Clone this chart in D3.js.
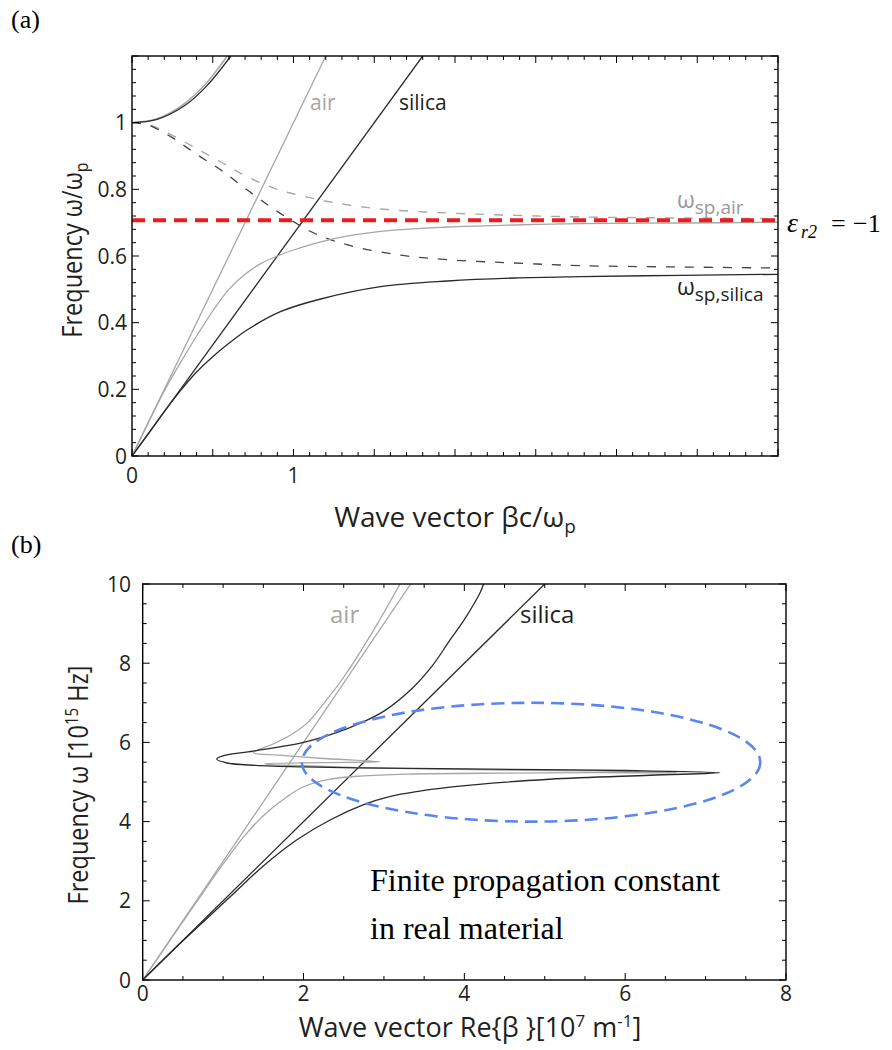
<!DOCTYPE html>
<html>
<head>
<meta charset="utf-8">
<script src="https://cdn.jsdelivr.net/npm/d3@7"></script>
<style>
  body { margin: 0; background: #fff; }
  svg { display: block; }
</style>
</head>
<body>
<svg width="892" height="1050"></svg>
<script>
// ---- (a) normalised dispersion ----
var aAirLight    = [[0, 0], [1.2, 1.2]];
var aSilicaLight = [[0, 0], [1.8, 1.2]];
var aUpperAir    = [[0, 1], [0.15, 1.011], [0.31, 1.052], [0.45, 1.113], [0.59, 1.2]];
var aUpperSilica = [[0, 1], [0.15, 1.009], [0.32, 1.049], [0.46, 1.109], [0.612, 1.2]];
var aSppAir      = [[0, 0], [0.1, 0.099], [0.2, 0.195], [0.3, 0.28], [0.4, 0.36], [0.5, 0.435], [0.6, 0.5], [0.7, 0.545], [0.8, 0.578], [0.9, 0.6], [1.0, 0.618], [1.23, 0.65], [1.54, 0.674], [1.955, 0.687], [2.37, 0.693], [2.78, 0.697], [3.4, 0.699], [4, 0.701]];
var aSppSilica   = [[0, 0], [0.1, 0.066], [0.2, 0.133], [0.3, 0.196], [0.4, 0.252], [0.5, 0.298], [0.6, 0.338], [0.712, 0.378], [0.919, 0.433], [1.168, 0.471], [1.54, 0.508], [1.955, 0.525], [2.37, 0.534], [2.78, 0.538], [3.4, 0.542], [4, 0.545]];
var aDashAir     = [[0, 1], [0.1, 0.995], [0.25, 0.962], [0.4, 0.922], [0.55, 0.882], [0.65, 0.854], [0.775, 0.824], [0.919, 0.797], [1.02, 0.784], [1.23, 0.762], [1.54, 0.741], [1.955, 0.729], [2.37, 0.722], [2.78, 0.717], [3.4, 0.714], [4, 0.712]];
var aDashSilica  = [[0, 1], [0.1, 0.993], [0.25, 0.955], [0.4, 0.905], [0.55, 0.858], [0.7, 0.803], [0.85, 0.75], [1.0, 0.703], [1.126, 0.669], [1.33, 0.634], [1.64, 0.604], [1.955, 0.589], [2.37, 0.579], [2.78, 0.571], [3.4, 0.567], [4, 0.564]];
var aEpsLevel    = 0.707;
var aYTicks      = [0, 0.2, 0.4, 0.6, 0.8, 1];
var aXTicks      = [0, 1];

// ---- (b) lossy Drude, Re(beta) in 1e7 1/m, omega in 1e15 Hz ----
var bAirLight    = [[0, 0], [3.333, 10]];
var bSilicaLight = [[0, 0], [5, 10]];
var bSilicaSpp   = [[0, 0], [0.5, 0.99], [1.088, 2.1], [1.5, 2.88], [1.914, 3.535], [2.33, 4.04], [2.74, 4.42], [3.07, 4.63], [3.82, 4.87], [5.06, 5.07], [6.31, 5.17], [7.18, 5.235],
                    [6.0, 5.29], [5.0, 5.31], [4.0, 5.33], [3.0, 5.35], [2.0, 5.38], [1.4, 5.42], [1.05, 5.48], [0.92, 5.58], [1.0, 5.66], [1.375, 5.78], [2.0, 6.0], [2.4, 6.24], [2.7, 6.48], [3.0, 6.79], [3.36, 7.38], [3.6, 7.93], [3.82, 8.58], [4.0, 9.1], [4.12, 9.5], [4.2, 9.8], [4.24, 10]];
var bAirSpp      = [[0, 0], [0.67, 1.97], [1.0, 2.93], [1.25, 3.6], [1.5, 4.15], [1.79, 4.62], [2.0, 4.88], [2.3, 5.06], [2.7, 5.15], [3.3, 5.2], [4.5, 5.225], [5.6, 5.235], [6.64, 5.235],
                    [5.6, 5.28], [4.5, 5.3], [3.5, 5.33], [2.6, 5.37], [2.0, 5.41], [1.6, 5.44], [1.52, 5.46], [2.2, 5.49], [2.95, 5.51],
                    [2.2, 5.6], [1.7, 5.68], [1.375, 5.74], [1.62, 5.96], [1.85, 6.2], [2.05, 6.5], [2.25, 6.98], [2.49, 7.62], [2.85, 8.76], [3.2, 10]];
var bEllipse     = { cx: 4.83, cy: 5.5, rx: 2.85, ry: 1.5 };
var bYTicks      = [0, 2, 4, 6, 8, 10];
var bXTicks      = [0, 2, 4, 6, 8];

var GRAY = "#a6a6a6", DARK = "#2a2a2a", TXT = "#231f20";
var sans = "'Open Sans', 'Noto Sans', sans-serif";
var serif = "'Liberation Serif', 'Times New Roman', serif";

var svg = d3.select("svg");

// frame with inward ticks on all four sides
function frame(g, x, y, xMinor, xMajor, yMinor, yMajor){
    var x0 = x.range()[0], x1 = x.range()[1], y0 = y.range()[0], y1 = y.range()[1];
    g.append("rect")
        .attr("x", x0).attr("y", y1)
        .attr("width", x1 - x0).attr("height", y0 - y1)
        .attr("fill", "none").attr("stroke", "#000").attr("stroke-width", 1.4);
    var xt = d3.range(x.domain()[0], x.domain()[1] + 1e-9, xMinor);
    var yt = d3.range(y.domain()[0], y.domain()[1] + 1e-9, yMinor);
    function isMajor(v, m){ return Math.abs(v / m - Math.round(v / m)) < 1e-6; }
    xt.forEach(function(v){
        var L = isMajor(v, xMajor) ? 7 : 4;
        g.append("line").attr("x1", x(v)).attr("x2", x(v)).attr("y1", y0).attr("y2", y0 - L).attr("stroke", "#000");
        g.append("line").attr("x1", x(v)).attr("x2", x(v)).attr("y1", y1).attr("y2", y1 + L).attr("stroke", "#000");
    });
    yt.forEach(function(v){
        var L = isMajor(v, yMajor) ? 7 : 4;
        g.append("line").attr("y1", y(v)).attr("y2", y(v)).attr("x1", x0).attr("x2", x0 + L).attr("stroke", "#000");
        g.append("line").attr("y1", y(v)).attr("y2", y(v)).attr("x1", x1).attr("x2", x1 - L).attr("stroke", "#000");
    });
}

function curve(g, x, y, pts, color, dash, w){
    var line = d3.line()
        .x(function(d){ return x(d[0]); })
        .y(function(d){ return y(d[1]); })
        .curve(d3.curveCatmullRom.alpha(0.5));
    g.append("path")
        .attr("d", line(pts))
        .attr("fill", "none")
        .attr("stroke", color)
        .attr("stroke-width", w || 1.3)
        .attr("stroke-dasharray", dash || null);
}

// subscripted label helper: main text, then a lowered small part
function subLabel(g, x, y, main, sub, size, subSize, color){
    var t = g.append("text").attr("x", x).attr("y", y)
        .attr("font-family", sans).attr("font-size", size).attr("fill", color);
    t.append("tspan").text(main);
    t.append("tspan").attr("dy", 6).attr("font-size", subSize).text(sub);
    return t;
}

// ================= panel (a) =================
var ax = d3.scaleLinear().domain([0, 4]).range([132, 778]);
var ay = d3.scaleLinear().domain([0, 1.2]).range([456, 56]);
var ga = svg.append("g");
ga.append("defs").append("clipPath").attr("id", "clipA")
    .append("rect").attr("x", 132).attr("y", 56).attr("width", 646).attr("height", 400);
var ca = ga.append("g").attr("clip-path", "url(#clipA)");

curve(ca, ax, ay, aDashAir, "#a8a8a8", "9,10", 1.4);
curve(ca, ax, ay, aDashSilica, "#444", "9,10", 1.3);
curve(ca, ax, ay, aAirLight, GRAY);
curve(ca, ax, ay, aSilicaLight, DARK);
curve(ca, ax, ay, aUpperAir, GRAY, null, 1.5);
curve(ca, ax, ay, aUpperSilica, DARK);
curve(ca, ax, ay, aSppAir, GRAY);
curve(ca, ax, ay, aSppSilica, DARK);

ga.append("line")
    .attr("x1", ax(0)).attr("x2", ax(4))
    .attr("y1", ay(aEpsLevel)).attr("y2", ay(aEpsLevel))
    .attr("stroke", "#ea1c1c").attr("stroke-width", 4).attr("stroke-dasharray", "13,8");

frame(ga, ax, ay, 0.1, 0.5, 0.04, 0.2);

ga.selectAll(".ytl").data(aYTicks).enter().append("text")
    .attr("x", 127).attr("y", function(d){ return ay(d) + 7.5; })
    .attr("text-anchor", "end").attr("font-family", sans).attr("font-size", 21).attr("fill", TXT)
    .text(function(d){ return d; });
ga.selectAll(".xtl").data(aXTicks).enter().append("text")
    .attr("x", function(d){ return ax(d); }).attr("y", 483)
    .attr("text-anchor", "middle").attr("font-family", sans).attr("font-size", 21).attr("fill", TXT)
    .text(function(d){ return d; });

var xa = ga.append("text").attr("x", 455).attr("y", 527).attr("text-anchor", "middle")
    .attr("font-family", sans).attr("font-size", 28).attr("fill", TXT);
xa.append("tspan").text("Wave vector βc/ω");
xa.append("tspan").attr("dy", 6).attr("font-size", 19).text("p");

var ya = ga.append("text").attr("transform", "translate(82,250) rotate(-90) scale(0.84,1)").attr("text-anchor", "middle")
    .attr("font-family", sans).attr("font-size", 28).attr("fill", TXT);
ya.append("tspan").text("Frequency ω/ω");
ya.append("tspan").attr("dy", 6).attr("font-size", 19).text("p");

ga.append("text").attr("x", 310).attr("y", 110).attr("font-family", sans).attr("font-size", 21).attr("fill", GRAY).text("air");
ga.append("text").attr("x", 399).attr("y", 110).attr("font-family", sans).attr("font-size", 21).attr("fill", TXT).text("silica");

subLabel(ga, 677, 208, "ω", "sp,air", 23, 19, "#999");
subLabel(ga, 677, 295, "ω", "sp,silica", 23, 19, TXT);

// epsilon_r2 = -1 annotation, math-style spacing
var eg = ga.append("g").attr("font-family", serif).attr("fill", "#000");
eg.append("text").attr("x", 787).attr("y", 232).attr("font-size", 28).attr("font-style", "italic").text("ε");
eg.append("text").attr("x", 801).attr("y", 238).attr("font-size", 18).attr("font-style", "italic").text("r2");
eg.append("text").attr("x", 831).attr("y", 232).attr("font-size", 26).text("=");
eg.append("text").attr("x", 853).attr("y", 232).attr("font-size", 26).text("−1");

svg.append("text").attr("x", 11).attr("y", 28).attr("font-family", serif).attr("font-size", 26).text("(a)");

// ================= panel (b) =================
var bx = d3.scaleLinear().domain([0, 8]).range([142.7, 786]);
var by = d3.scaleLinear().domain([0, 10]).range([980, 584]);
var gb = svg.append("g");
gb.append("defs").append("clipPath").attr("id", "clipB")
    .append("rect").attr("x", 142.7).attr("y", 584).attr("width", 643.3).attr("height", 396);
var cb = gb.append("g").attr("clip-path", "url(#clipB)");

curve(cb, bx, by, bAirLight, GRAY);
curve(cb, bx, by, bSilicaLight, DARK);
curve(cb, bx, by, bAirSpp, GRAY);
curve(cb, bx, by, bSilicaSpp, DARK);

gb.append("ellipse")
    .attr("cx", bx(bEllipse.cx)).attr("cy", by(bEllipse.cy))
    .attr("rx", bx(bEllipse.rx) - bx(0)).attr("ry", by(0) - by(bEllipse.ry))
    .attr("fill", "none").attr("stroke", "#5b86f2").attr("stroke-width", 2.6).attr("stroke-dasharray", "13,7");

frame(gb, bx, by, 0.5, 2, 0.5, 2);

gb.selectAll(".ytl").data(bYTicks).enter().append("text")
    .attr("x", 131).attr("y", function(d){ return by(d) + 7.5; })
    .attr("text-anchor", "end").attr("font-family", sans).attr("font-size", 21).attr("fill", TXT)
    .text(function(d){ return d; });
gb.selectAll(".xtl").data(bXTicks).enter().append("text")
    .attr("x", function(d){ return bx(d); }).attr("y", 1001)
    .attr("text-anchor", "middle").attr("font-family", sans).attr("font-size", 21).attr("fill", TXT)
    .text(function(d){ return d; });

var xb = gb.append("text").attr("x", 470).attr("y", 1037).attr("text-anchor", "middle")
    .attr("font-family", sans).attr("font-size", 27).attr("fill", TXT);
xb.append("tspan").text("Wave vector Re{β }[10");
xb.append("tspan").attr("dy", -10).attr("font-size", 17).text("7");
xb.append("tspan").attr("dy", 10).text(" m");
xb.append("tspan").attr("dy", -10).attr("font-size", 17).text("-1");
xb.append("tspan").attr("dy", 10).text("]");

var yb = gb.append("text").attr("transform", "translate(88,785) rotate(-90) scale(0.84,1)").attr("text-anchor", "middle")
    .attr("font-family", sans).attr("font-size", 28).attr("fill", TXT);
yb.append("tspan").text("Frequency ω [10");
yb.append("tspan").attr("dy", -10).attr("font-size", 18).text("15");
yb.append("tspan").attr("dy", 10).text(" Hz]");

gb.append("text").attr("x", 330).attr("y", 623).attr("font-family", sans).attr("font-size", 24).attr("fill", GRAY).text("air");
gb.append("text").attr("x", 520).attr("y", 623).attr("font-family", sans).attr("font-size", 24).attr("fill", TXT).text("silica");

gb.append("text").attr("x", 370).attr("y", 891).attr("font-family", serif).attr("font-size", 32).text("Finite propagation constant");
gb.append("text").attr("x", 370).attr("y", 939).attr("font-family", serif).attr("font-size", 32).text("in real material");

svg.append("text").attr("x", 11).attr("y", 553).attr("font-family", serif).attr("font-size", 26).text("(b)");
</script>
</body>
</html>
